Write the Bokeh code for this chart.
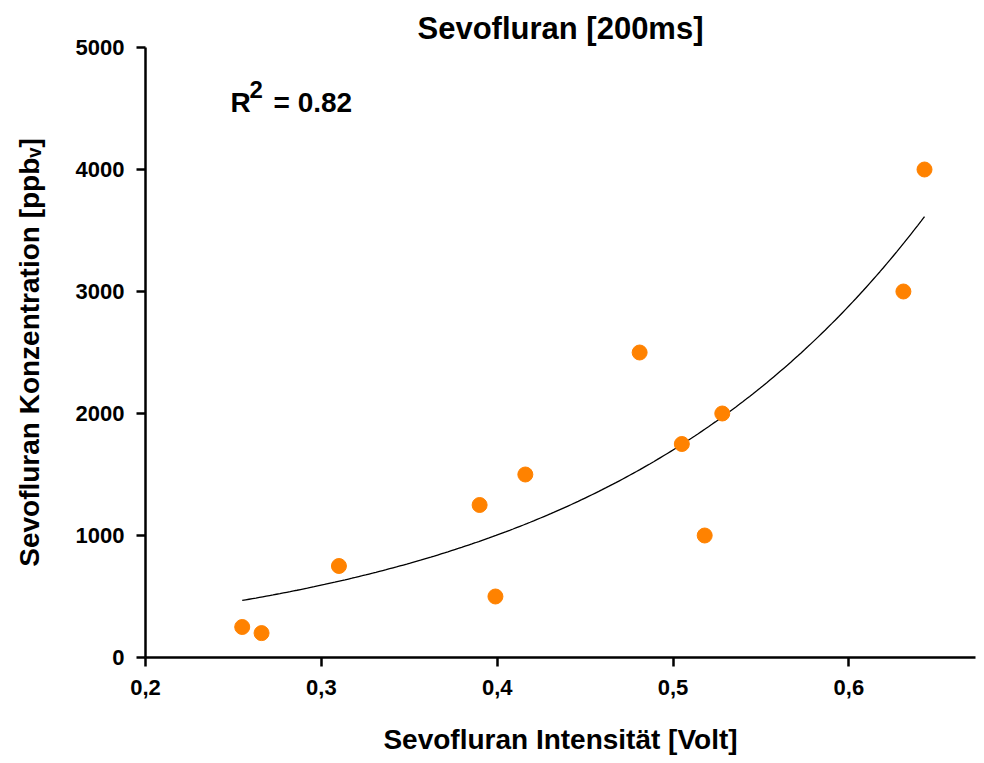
import numpy as np
from bokeh.plotting import figure
from bokeh.models import Range1d, Label, FixedTicker
from bokeh.embed import file_html
from bokeh.resources import INLINE

# data
intensity_volt = [0.255, 0.266, 0.310, 0.390, 0.399, 0.416, 0.481, 0.505, 0.518, 0.528, 0.631, 0.643]
concentration_ppbv = [250, 200, 750, 1250, 500, 1500, 2500, 1750, 1000, 2000, 3000, 4000]

# exponential fit y = a * exp(b * x), parameters estimated from the drawn curve
fit_a = 122.0
fit_b = 5.27
fit_x_start = 0.255
fit_x_end = 0.643

x_ticks = [0.2, 0.3, 0.4, 0.5, 0.6]
x_tick_labels = ["0,2", "0,3", "0,4", "0,5", "0,6"]
y_ticks = [0, 1000, 2000, 3000, 4000, 5000]
y_tick_labels = ["0", "1000", "2000", "3000", "4000", "5000"]

FONT = "Liberation Sans"

p = figure(width=984, height=763, output_backend="svg", toolbar_location=None,
           x_range=Range1d(0.2, 0.672), y_range=Range1d(0, 5000),
           min_border_left=145, min_border_right=9, min_border_top=47, min_border_bottom=106,
           title="Sevofluran [200ms]")

p.title.align = "center"
p.title.text_font = FONT
p.title.text_font_size = "31px"
p.title.text_font_style = "bold"
p.title.text_color = "black"
p.title.offset = 0
p.title.standoff = 3

p.outline_line_color = None
p.xgrid.visible = False
p.ygrid.visible = False
p.background_fill_color = "white"
p.border_fill_color = "white"

for ax in (p.xaxis[0], p.yaxis[0]):
    ax.axis_line_width = 2.5
    ax.axis_line_color = "black"
    ax.major_tick_line_width = 2.5
    ax.major_tick_line_color = "black"
    ax.major_tick_out = 9
    ax.major_tick_in = 0
    ax.minor_tick_line_color = None
    ax.major_label_text_font = FONT
    ax.major_label_text_font_style = "bold"
    ax.major_label_text_font_size = "22px"
    ax.major_label_text_color = "black"
    ax.axis_label_text_font = FONT
    ax.axis_label_text_font_style = "bold"
    ax.axis_label_text_font_size = "28px"
    ax.axis_label_text_color = "black"

p.xaxis.ticker = FixedTicker(ticks=x_ticks)
p.xaxis.major_label_overrides = dict(zip(x_ticks, x_tick_labels))
p.yaxis.ticker = FixedTicker(ticks=y_ticks)
p.yaxis.major_label_overrides = dict(zip(y_ticks, y_tick_labels))
p.xaxis.major_label_standoff = 13
p.yaxis.major_label_standoff = 12
p.xaxis.axis_label = "Sevofluran Intensität [Volt]"
p.yaxis.axis_label = "Sevofluran Konzentration [ppbᵥ]"
p.xaxis.axis_label_standoff = 26
p.yaxis.axis_label_standoff = 28

# fit curve
xf = np.linspace(fit_x_start, fit_x_end, 200)
yf = fit_a * np.exp(fit_b * xf)
p.line(xf, yf, line_color="black", line_width=1.3)

# data points
p.scatter(intensity_volt, concentration_ppbv, size=15, fill_color="#ff8200", line_color="#ff8200")

# R^2 annotation (screen units relative to the plot frame)
p.add_layout(Label(x=85, y=555, x_units="screen", y_units="screen", text="R",
                   text_font=FONT, text_font_style="bold", text_font_size="28px",
                   text_color="black", text_baseline="alphabetic"))
p.add_layout(Label(x=104, y=568, x_units="screen", y_units="screen", text="2",
                   text_font=FONT, text_font_style="bold", text_font_size="24px",
                   text_color="black", text_baseline="alphabetic"))
p.add_layout(Label(x=128, y=555, x_units="screen", y_units="screen", text="= 0.82",
                   text_font=FONT, text_font_style="bold", text_font_size="28px",
                   text_color="black", text_baseline="alphabetic"))

open("out.html", "w").write(file_html(p, INLINE))
